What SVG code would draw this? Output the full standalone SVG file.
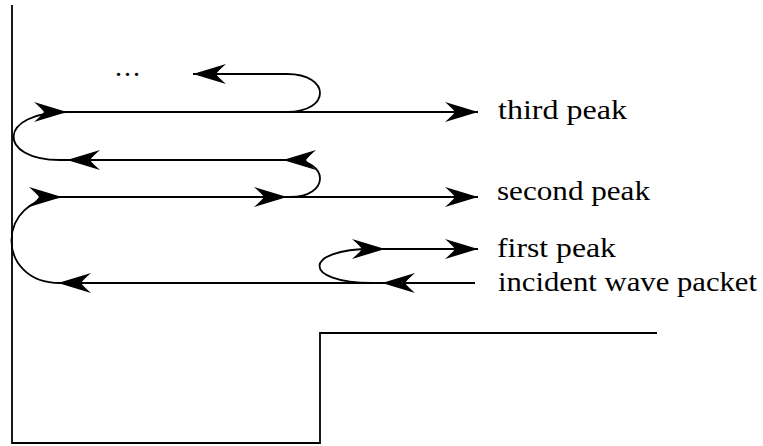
<svg xmlns="http://www.w3.org/2000/svg" xmlns:xlink="http://www.w3.org/1999/xlink" width="763" height="446" viewBox="0 0 763 446">
<style>
.ln{fill:none;stroke:#000;stroke-width:1.8}
.ah{fill:#000;stroke:none}
.lbl{font-family:"Liberation Serif","Times New Roman",serif;font-size:28px;fill:#000}
</style>
<defs>
<path id="ah" class="ah" d="M0,0 L-33,-10 Q-25,-3 -23,0 Q-25,3 -33,10 Z"/>
</defs>
<rect width="763" height="446" fill="#fff"/>
<g id="potential">
<path class="ln" d="M12,5 V443 H320 V333 H657"/>
</g>
<g id="connectors">
<!-- top return -->
<path class="ln" d="M193,74 H287 C331,74 331,112 287,112"/>
<!-- third peak line -->
<path class="ln" d="M60,112 H478"/>
<path class="ln" d="M60,160 C-3,160 -3,112 67,112"/>
<!-- line y=160 -->
<path class="ln" d="M60,160 H290 C330,160 330,197 290,197"/>
<!-- second peak line -->
<path class="ln" d="M58,197 H478"/>
<path class="ln" d="M60,283 C-5,283 -5,197 62,197"/>
<!-- incident line -->
<path class="ln" d="M58,283 H475"/>
<!-- first peak loop -->
<path class="ln" d="M372,283 C302,283 302,249 372,249 H478"/>
<use xlink:href="#ah" transform="translate(193,74) rotate(180)"/>
<use xlink:href="#ah" transform="translate(67,112)"/>
<use xlink:href="#ah" transform="translate(478,112)"/>
<use xlink:href="#ah" transform="translate(67,160) rotate(180)"/>
<use xlink:href="#ah" transform="translate(283,160) rotate(180)"/>
<use xlink:href="#ah" transform="translate(62,197)"/>
<use xlink:href="#ah" transform="translate(287,197)"/>
<use xlink:href="#ah" transform="translate(478,197)"/>
<use xlink:href="#ah" transform="translate(385,249)"/>
<use xlink:href="#ah" transform="translate(478,249)"/>
<use xlink:href="#ah" transform="translate(58,283) rotate(180)"/>
<use xlink:href="#ah" transform="translate(382,283) rotate(180)"/>
</g>
<g id="labels">
<text class="lbl" x="115" y="76" letter-spacing="2">...</text>
<text id="third" class="lbl" x="498" y="119" textLength="129" lengthAdjust="spacingAndGlyphs">third peak</text>
<text id="second" class="lbl" x="497" y="200" textLength="153" lengthAdjust="spacingAndGlyphs">second peak</text>
<text id="first" class="lbl" x="497" y="257" textLength="119" lengthAdjust="spacingAndGlyphs">first peak</text>
<text id="incident" class="lbl" x="498" y="291" textLength="259" lengthAdjust="spacingAndGlyphs">incident wave packet</text>
</g>
</svg>
